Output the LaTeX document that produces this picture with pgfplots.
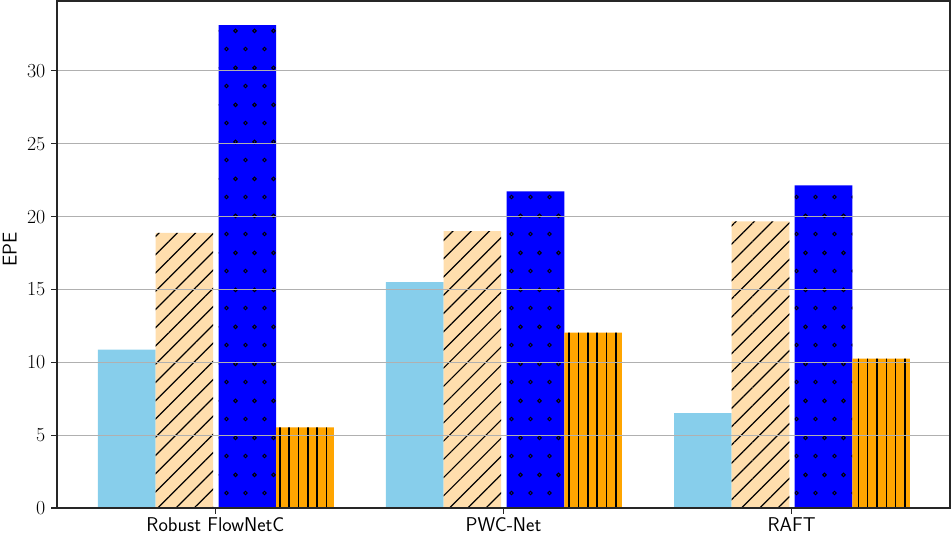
\documentclass[border=0pt]{standalone}
\usepackage{fontspec}
\usepackage{pgfplots}
\pgfplotsset{compat=1.18}
\usetikzlibrary{patterns,patterns.meta}
\definecolor{skyb}{RGB}{135,206,235}
\definecolor{navw}{RGB}{255,222,173}
\definecolor{orng}{RGB}{255,165,0}
\definecolor{gridc}{RGB}{176,176,176}
\definecolor{spine}{RGB}{38,38,38}
\pgfdeclarepatternformonly{ringdots}{\pgfpointorigin}{\pgfpoint{18.5bp}{37bp}}{\pgfpoint{18.5bp}{37bp}}{
  \pgfsetlinewidth{1.0bp}
  \pgfpathcircle{\pgfpoint{4.6bp}{9.25bp}}{1.8bp}\pgfusepath{stroke}
  \pgfpathcircle{\pgfpoint{13.85bp}{27.75bp}}{1.8bp}\pgfusepath{stroke}
}
\begin{document}
\begin{tikzpicture}
\begin{axis}[
  scale only axis, width=893bp, height=507bp,
  xmin=-0.55, xmax=2.55, ymin=0, ymax=34.8,
  xtick={0,1,2}, xticklabels={Robust FlowNetC, PWC-Net, RAFT},
  ytick={0,5,...,30},
  ymajorgrids, grid style={gridc, line width=1.1bp},
  axis on top,
  axis line style={spine, line width=1.1bp},
  tick style={spine, line width=1.1bp},
  tick align=outside, major tick length=5.5bp,
  xtick pos=lower, ytick pos=left,
  ylabel={EPE},
  ylabel style={font=\sffamily\fontsize{20}{24}\selectfont, inner sep=0pt,
    at={(axis description cs:0,0.5)}, anchor=north, xshift=5bp, yshift=54.5bp},
  xticklabel style={font=\sffamily\fontsize{20}{24}\selectfont, inner sep=0pt, yshift=-4bp},
  yticklabel style={font=\rmfamily\fontsize{20}{24}\selectfont, inner sep=0pt, xshift=-6bp},
  /pgf/number format/assume math mode=true,
]
\addplot[ybar, bar width=0.2, bar shift=-0.308, fill=skyb, draw=none]
  coordinates {(0,10.87) (1,15.51) (2,6.52)};
\addplot[ybar, bar width=0.2, bar shift=-0.108, fill=navw, draw=none,
  postaction={pattern={Lines[angle=45,distance=12.9bp,line width=1.2bp]}, pattern color=black}]
  coordinates {(0,18.88) (1,19.01) (2,19.68)};
\addplot[ybar, bar width=0.2, bar shift=0.111, fill=blue, draw=none,
  postaction={pattern=ringdots, pattern color=black}]
  coordinates {(0,33.15) (1,21.74) (2,22.15)};
\addplot[ybar, bar width=0.2, bar shift=0.311, fill=orng, draw=none,
  postaction={pattern={Lines[angle=90,distance=9.33bp,line width=1.5bp]}, pattern color=black}]
  coordinates {(0,5.54) (1,12.04) (2,10.25)};
\end{axis}
\pgfresetboundingbox
\path ([shift={(-57bp,-30bp)}]current axis.south west) rectangle ([shift={(1bp,1bp)}]current axis.north east);
\end{tikzpicture}
\end{document}
